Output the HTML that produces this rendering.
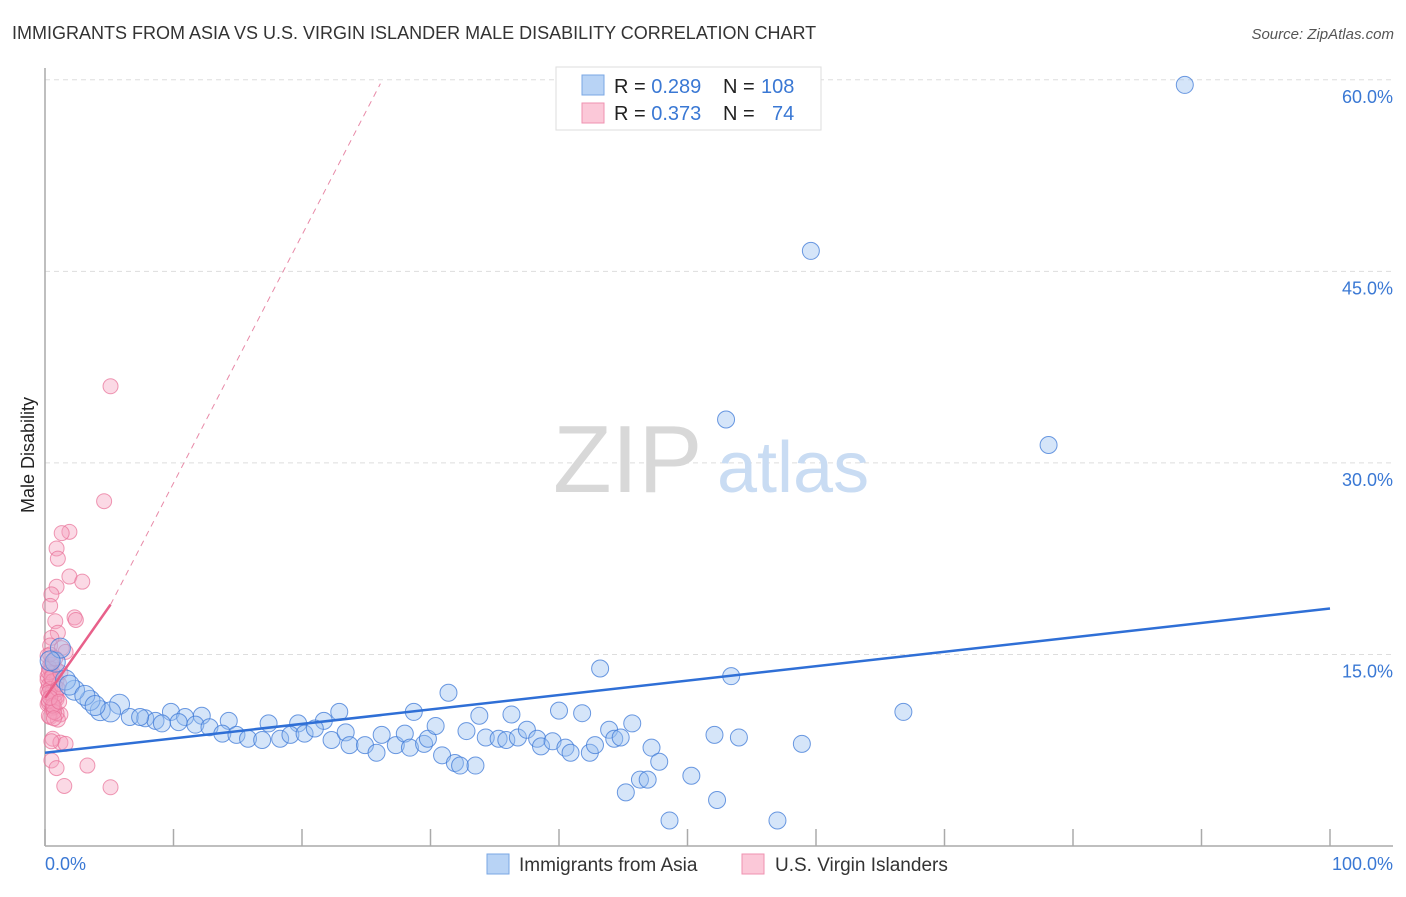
<!DOCTYPE html>
<html><head><meta charset="utf-8"><style>
body{margin:0;background:#fff;font-family:"Liberation Sans",sans-serif;}
svg text{font-family:"Liberation Sans",sans-serif;}
</style></head><body>
<svg width="1406" height="892" viewBox="0 0 1406 892" xmlns="http://www.w3.org/2000/svg" id="chart">
<text x="12" y="39" font-size="18" fill="#333">IMMIGRANTS FROM ASIA VS U.S. VIRGIN ISLANDER MALE DISABILITY CORRELATION CHART</text>
<text x="1394" y="39" font-size="15" fill="#555" font-style="italic" text-anchor="end">Source: ZipAtlas.com</text>
<g id="grid"></g>
<g>
<text x="553" y="492" font-size="96" fill="#d8d8d8" font-family="Liberation Serif,serif">ZIP</text>
<text x="717" y="492" font-size="72" fill="#c9dcf3">atlas</text>
</g>
<line x1="45" y1="68" x2="45" y2="846" stroke="#aaa" stroke-width="1.5"/>
<line x1="45" y1="846" x2="1393" y2="846" stroke="#aaa" stroke-width="1.5"/>
<g id="xticks"></g>
<g id="yticks"></g>
<text x="45" y="870" font-size="18" fill="#3a78d4">0.0%</text>
<text x="1393" y="870" font-size="18" fill="#3a78d4" text-anchor="end">100.0%</text>
<text transform="translate(34,455) rotate(-90)" font-size="18" fill="#222" text-anchor="middle">Male Disability</text>
<g id="pinkPts"></g>
<g id="bluePts"></g>
<g id="lines"></g>
<g>
<rect x="556" y="67" width="265" height="63" fill="#fff" stroke="#ddd"/>
<rect x="582" y="75" width="22" height="20" fill="#b8d3f5" stroke="#7aa7e4"/>
<rect x="582" y="103" width="22" height="20" fill="#fbc8d8" stroke="#ef92b0"/>
<text x="614" y="93" font-size="20" fill="#222">R = <tspan fill="#3a78d4">0.289</tspan><tspan x="723">N = </tspan><tspan fill="#3a78d4" x="761">108</tspan></text>
<text x="614" y="120" font-size="20" fill="#222">R = <tspan fill="#3a78d4">0.373</tspan><tspan x="723">N = </tspan><tspan fill="#3a78d4" x="772">74</tspan></text>
</g>
<g>
<rect x="487" y="854" width="22" height="20" fill="#b8d3f5" stroke="#7aa7e4"/>
<text x="519" y="871" font-size="19" fill="#333">Immigrants from Asia</text>
<rect x="742" y="854" width="22" height="20" fill="#fbc8d8" stroke="#ef92b0"/>
<text x="775" y="871" font-size="19" fill="#333">U.S. Virgin Islanders</text>
</g>
</svg>
<script>
const yTicks=[15,30,45,60];
const xTickVals=[0,10,20,30,40,50,60,70,80,90,100];
const blueX=[88.7,59.6,53.0,78.1,43.2,53.4,66.8,31.4,40.0,41.8,45.7,28.7,33.8,36.3,22.9,21.7,19.7,17.4,14.3,12.2,9.8,10.9,5.8,4.3,5.1,3.5,2.3,1.6,0.8,1.2,0.4,6.6,7.8,8.6,9.1,10.4,11.7,12.8,13.8,14.9,15.8,16.9,18.3,19.1,20.2,21.0,22.3,23.4,23.7,24.9,25.8,26.2,27.3,28.0,28.4,29.5,29.8,30.4,30.9,31.9,32.3,33.5,32.8,34.3,35.3,35.9,36.8,37.5,38.3,38.6,39.5,40.5,40.9,42.4,42.8,43.9,44.3,44.8,45.2,46.3,46.9,47.2,47.8,48.6,50.3,52.1,52.3,54.0,57.0,58.9,1.9,3.1,3.9,7.4];
const blueY=[59.6,46.6,33.4,31.4,13.9,13.3,10.5,12.0,10.6,10.4,9.6,10.5,10.2,10.3,10.5,9.8,9.6,9.6,9.8,10.2,10.5,10.1,11.1,10.6,10.5,11.4,12.2,13.0,14.4,15.5,14.5,10.1,10.0,9.8,9.6,9.7,9.5,9.3,8.8,8.7,8.4,8.3,8.4,8.7,8.8,9.2,8.3,8.9,7.9,7.9,7.3,8.7,7.9,8.8,7.7,8.0,8.4,9.4,7.1,6.5,6.3,6.3,9.0,8.5,8.4,8.3,8.5,9.1,8.4,7.8,8.2,7.7,7.3,7.3,7.9,9.1,8.4,8.5,4.2,5.2,5.2,7.7,6.6,2.0,5.5,8.7,3.6,8.5,2.0,8.0,12.6,11.8,11.0,10.1];
const pinkX=[5.1,4.6,1.9,1.3,0.9,1.0,1.9,2.9,0.9,0.5,0.4,2.3,2.4,0.8,1.0,0.5,0.4,1.3,1.6,0.2,0.5,0.9,0.2,0.5,0.8,0.2,0.5,0.9,0.2,0.6,1.2,0.4,1.0,0.6,1.2,1.6,0.5,0.9,3.3,1.5,5.1,0.2,0.4,0.7,0.3,0.6,0.9,0.3,0.6,0.9,0.3,0.6,0.9,0.3,0.6,0.4,0.8,0.3,0.7,0.5,0.3,0.7,1.1,0.4,0.8,0.5,1.2,0.3,0.6,1.0,0.4,0.7,1.1,0.5];
const pinkY=[36.0,27.0,24.6,24.5,23.3,22.5,21.1,20.7,20.3,19.7,18.8,17.9,17.7,17.6,16.7,16.3,15.7,15.5,15.2,14.9,14.2,13.8,13.3,12.8,12.5,12.2,11.8,11.5,11.1,10.6,10.3,10.1,9.9,8.4,8.1,8.0,6.7,6.1,6.3,4.7,4.6,13.0,13.9,11.4,14.0,13.5,13.0,12.6,12.1,11.7,11.2,10.8,10.4,13.6,12.9,12.3,11.9,11.4,10.9,14.4,10.2,10.5,12.7,15.0,14.7,13.2,13.6,12.0,11.0,12.3,11.6,10.0,11.3,8.2];
const blueTrend=[7.3,18.6];
const pinkTrendStart=[0,11.6];
const pinkTrendSolidEnd=[5.1,18.9];
const pinkTrendDashEnd=[26.1,59.7];

const X=v=>45+v*12.85;
const Y=v=>846-v*12.77;
const NS="http://www.w3.org/2000/svg";
function mk(tag,attrs,parent){const e=document.createElementNS(NS,tag);for(const k in attrs)e.setAttribute(k,attrs[k]);parent.appendChild(e);return e;}
const grid=document.getElementById('grid'),yt=document.getElementById('yticks'),xt=document.getElementById('xticks');
yTicks.forEach(t=>{
 const l=mk('line',{x1:45,x2:1393,y1:Y(t),y2:Y(t),stroke:'#ddd','stroke-dasharray':'5,4'},grid);
 
 
 const tx=mk('text',{x:1393,y:Y(t)+23,'font-size':18,fill:'#3a78d4','text-anchor':'end'},yt);
 tx.textContent=t.toFixed(1)+'%';
 
 
});
xTickVals.forEach(t=>{
 const l=mk('line',{x1:X(t),x2:X(t),y1:829,y2:846,stroke:'#aaa','stroke-width':1.5},xt);
 
 
});
const pp=document.getElementById('pinkPts');
pinkX.forEach((v,i)=>{
 const c=mk('circle',{cx:X(v),cy:Y(pinkY[i]),r:7.5,fill:'rgba(246,160,190,0.4)',stroke:'rgba(232,110,150,0.7)','stroke-width':1},pp);
 
 
});
const bp=document.getElementById('bluePts');
blueX.forEach((v,i)=>{
 const r=v<6?10:8.5;
 const c=mk('circle',{cx:X(v),cy:Y(blueY[i]),r:r,fill:'rgba(150,190,240,0.4)',stroke:'rgba(60,120,215,0.75)','stroke-width':1},bp);
 
 
});
const ln=document.getElementById('lines');
const b=mk('line',{x1:X(0),y1:Y(blueTrend[0]),x2:X(100),y2:Y(blueTrend[1]),stroke:'#2f6fd6','stroke-width':2.5},ln);


const pd=mk('line',{x1:X(pinkTrendSolidEnd[0]),y1:Y(pinkTrendSolidEnd[1]),x2:X(pinkTrendDashEnd[0]),y2:Y(pinkTrendDashEnd[1]),stroke:'#e88aa8','stroke-width':1,'stroke-dasharray':'6,5'},ln);


const ps=mk('line',{x1:X(pinkTrendStart[0]),y1:Y(pinkTrendStart[1]),x2:X(pinkTrendSolidEnd[0]),y2:Y(pinkTrendSolidEnd[1]),stroke:'#e8608a','stroke-width':2.5},ln);


</script>
</body></html>
